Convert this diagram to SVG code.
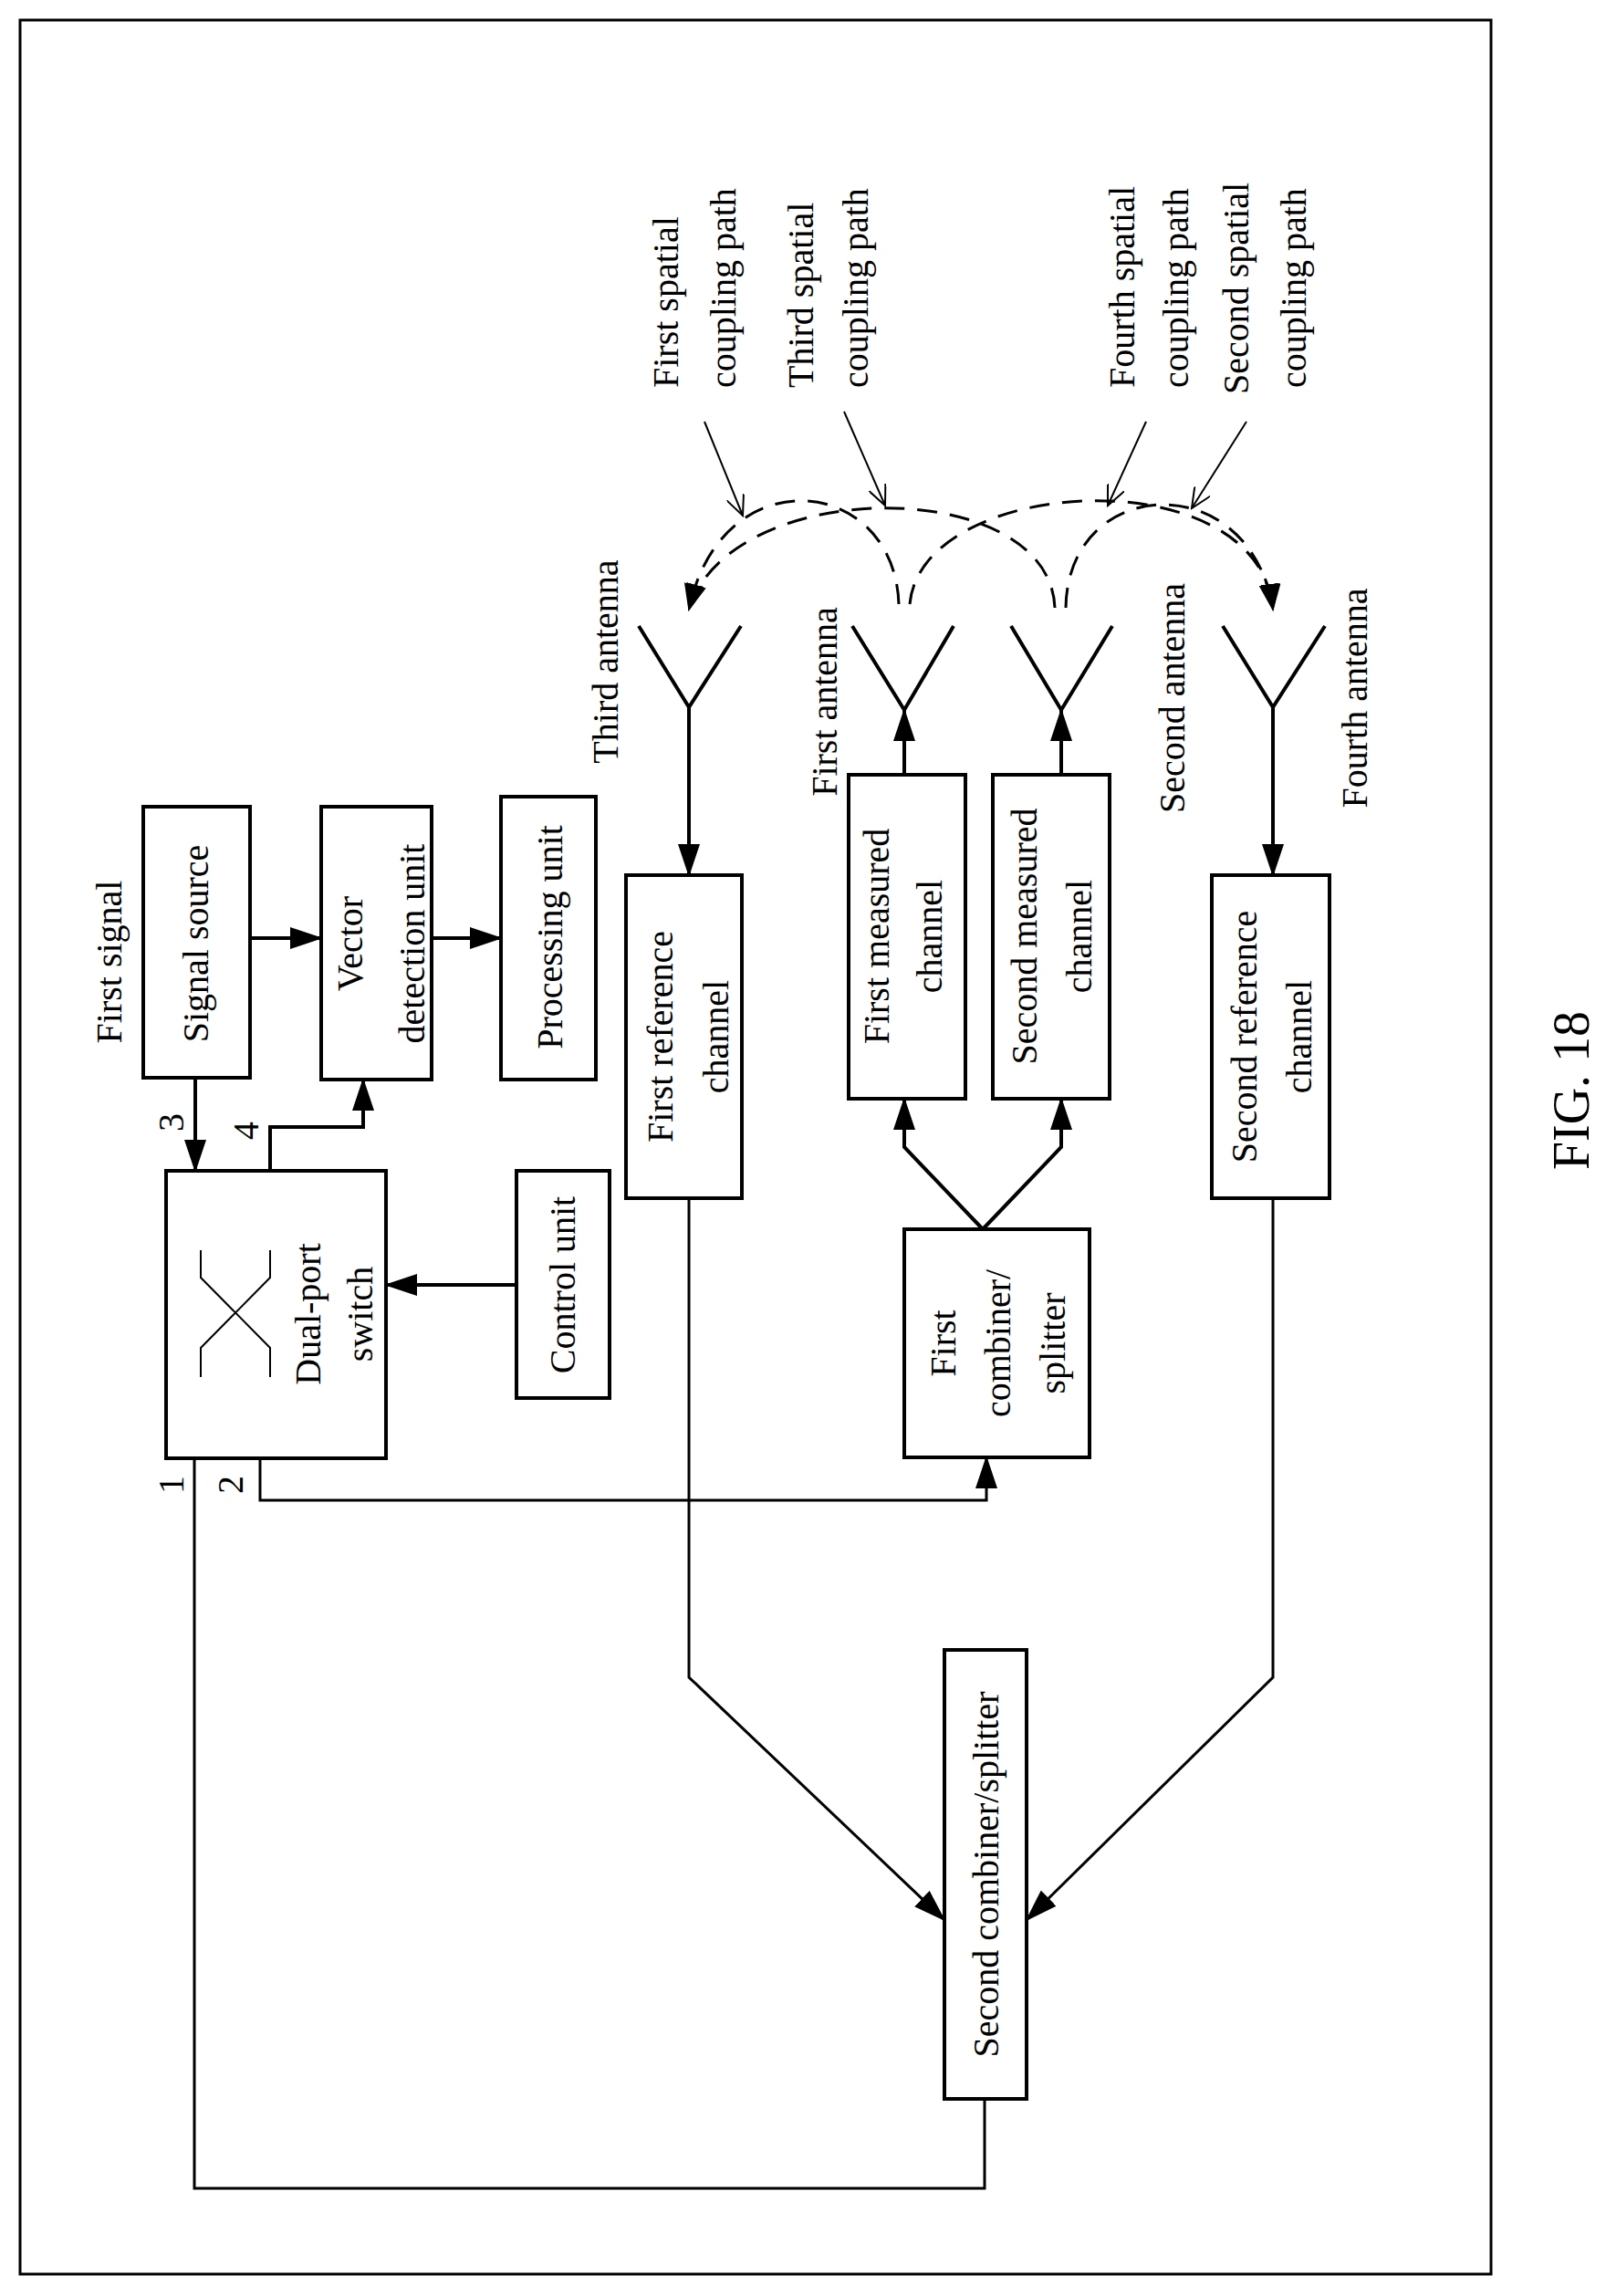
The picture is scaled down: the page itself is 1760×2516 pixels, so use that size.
<svg xmlns="http://www.w3.org/2000/svg" width="1760" height="2516" viewBox="0 0 1760 2516">
<defs>
<marker id="ah" markerUnits="userSpaceOnUse" markerWidth="36" markerHeight="24" refX="34" refY="12" orient="auto"><path d="M0,0 L36,12 L0,24 Z" fill="#000"/></marker>
<marker id="oh" markerUnits="userSpaceOnUse" markerWidth="24" markerHeight="20" refX="22" refY="10" orient="auto"><path d="M0,0 L22,10 L0,20" fill="none" stroke="#000" stroke-width="2"/></marker>
<marker id="dh" markerUnits="userSpaceOnUse" markerWidth="30" markerHeight="22" refX="28" refY="11" orient="auto"><path d="M0,0 L30,11 L0,22 Z" fill="#000"/></marker>
<style>
.b{fill:#fff;stroke:#000;stroke-width:4}
.t{font-family:"Liberation Serif","Times New Roman",serif;font-size:40px;fill:#000;text-anchor:middle}
.s{text-anchor:start}
.c{fill:none;stroke:#000;stroke-width:4}
.p{fill:none;stroke:#000;stroke-width:3}
.l{fill:none;stroke:#000;stroke-width:2}
.d{fill:none;stroke:#000;stroke-width:3;stroke-dasharray:22 14}
</style>
</defs>
<rect x="22" y="22" width="1612" height="2470" fill="none" stroke="#000" stroke-width="3"/>

<g id="connectors">
<path class="c" d="M274 1028 H352" marker-end="url(#ah)"/>
<path class="c" d="M473 1028 H549" marker-end="url(#ah)"/>
<path class="c" d="M214 1181 V1283" marker-end="url(#ah)"/>
<path class="c" d="M296 1283 V1235 H398 V1183" marker-end="url(#ah)"/>
<path class="c" d="M566 1408 H423" marker-end="url(#ah)"/>
<path class="p" d="M285 1598 V1644 H1081 V1597" marker-end="url(#ah)"/>
<path class="p" d="M213 1598 V2398 H1079 V2300"/>
<path class="c" d="M1077 1347 L991 1257 V1204" marker-end="url(#ah)"/>
<path class="c" d="M1077 1347 L1163 1257 V1204" marker-end="url(#ah)"/>
<path class="c" d="M991 849 V778" marker-end="url(#ah)"/>
<path class="c" d="M1163 849 V778" marker-end="url(#ah)"/>
<path class="c" d="M755 775 V959" marker-end="url(#ah)"/>
<path class="c" d="M1395 775 V959" marker-end="url(#ah)"/>
<path class="p" d="M755 1313 V1838 L1035 2104" marker-end="url(#ah)"/>
<path class="p" d="M1395 1313 V1838 L1125 2104" marker-end="url(#ah)"/>
<path class="d" d="M985 662 C980 520 790 500 755 668" marker-end="url(#dh)"/>
<path class="d" d="M1156 666 C1150 520 800 520 755 668" marker-end="url(#dh)"/>
<path class="d" d="M997 662 C1010 520 1380 500 1395 668" marker-end="url(#dh)"/>
<path class="d" d="M1168 666 C1170 520 1370 510 1395 668" marker-end="url(#dh)"/>
<path class="l" d="M772 462 L814 565" marker-end="url(#oh)"/>
<path class="l" d="M925 451 L970 554" marker-end="url(#oh)"/>
<path class="l" d="M1256 462 L1214 554" marker-end="url(#oh)"/>
<path class="l" d="M1366 462 L1306 557" marker-end="url(#oh)"/>
</g>

<g id="signal-source"><rect class="b" x="157" y="884" width="117" height="297"/><text class="t" transform="translate(228,1034) rotate(-90)">Signal source</text></g>
<g id="first-signal"><text class="t" transform="translate(133,1054) rotate(-90)">First signal</text></g>
<g id="vector-detection"><rect class="b" x="352" y="884" width="121" height="299"/><text class="t" transform="translate(397,1034) rotate(-90)">Vector</text><text class="t" transform="translate(465,1034) rotate(-90)">detection unit</text></g>
<g id="processing-unit"><rect class="b" x="549" y="873" width="104" height="310"/><text class="t" transform="translate(616,1027) rotate(-90)">Processing unit</text></g>
<g id="dual-port-switch"><rect class="b" x="182" y="1283" width="241" height="315"/>
<path class="l" d="M220 1370 V1400 L296 1477 V1509 M296 1370 V1400 L220 1477 V1509"/>
<text class="t" transform="translate(351,1440) rotate(-90)">Dual-port</text><text class="t" transform="translate(408,1440) rotate(-90)">switch</text></g>
<g id="control-unit"><rect class="b" x="566" y="1283" width="102" height="249"/><text class="t" transform="translate(630,1408) rotate(-90)">Control unit</text></g>
<g id="port-labels"><text class="t" transform="translate(201,1230) rotate(-90)">3</text><text class="t" transform="translate(283,1239) rotate(-90)">4</text><text class="t" transform="translate(201,1627) rotate(-90)">1</text><text class="t" transform="translate(266,1627) rotate(-90)">2</text></g>
<g id="first-reference"><rect class="b" x="686" y="959" width="127" height="354"/><text class="t" transform="translate(737,1136) rotate(-90)">First reference</text><text class="t" transform="translate(798,1136) rotate(-90)">channel</text></g>
<g id="first-measured"><rect class="b" x="930" y="849" width="128" height="355"/><text class="t" transform="translate(974,1026) rotate(-90)">First measured</text><text class="t" transform="translate(1032,1026) rotate(-90)">channel</text></g>
<g id="second-measured"><rect class="b" x="1088" y="849" width="128" height="355"/><text class="t" transform="translate(1136,1026) rotate(-90)">Second measured</text><text class="t" transform="translate(1196,1026) rotate(-90)">channel</text></g>
<g id="second-reference"><rect class="b" x="1328" y="959" width="129" height="354"/><text class="t" transform="translate(1377,1136) rotate(-90)">Second reference</text><text class="t" transform="translate(1437,1136) rotate(-90)">channel</text></g>
<g id="first-combiner"><rect class="b" x="991" y="1347" width="203" height="250"/><text class="t" transform="translate(1047,1472) rotate(-90)">First</text><text class="t" transform="translate(1107,1472) rotate(-90)">combiner/</text><text class="t" transform="translate(1167,1472) rotate(-90)">splitter</text></g>
<g id="second-combiner"><rect class="b" x="1035" y="1808" width="90" height="492"/><text class="t" transform="translate(1094,2054) rotate(-90)">Second combiner/splitter</text></g>
<g id="third-antenna"><path class="c" d="M700 686 L755 775 L812 686"/><text class="t" transform="translate(677,725) rotate(-90)">Third antenna</text></g>
<g id="first-antenna"><path class="c" d="M934 686 L991 778 L1045 686"/><text class="t" transform="translate(917,769) rotate(-90)">First antenna</text></g>
<g id="second-antenna"><path class="c" d="M1108 686 L1163 778 L1219 686"/><text class="t" transform="translate(1298,765) rotate(-90)">Second antenna</text></g>
<g id="fourth-antenna"><path class="c" d="M1340 686 L1395 775 L1452 686"/><text class="t" transform="translate(1498,765) rotate(-90)">Fourth antenna</text></g>
<g id="coupling-labels">
<text class="t s" transform="translate(743,425) rotate(-90)">First spatial</text><text class="t s" transform="translate(806,425) rotate(-90)">coupling path</text>
<text class="t s" transform="translate(891,425) rotate(-90)">Third spatial</text><text class="t s" transform="translate(951,425) rotate(-90)">coupling path</text>
<text class="t s" transform="translate(1243,425) rotate(-90)">Fourth spatial</text><text class="t s" transform="translate(1302,425) rotate(-90)">coupling path</text>
<text class="t s" transform="translate(1368,432) rotate(-90)">Second spatial</text><text class="t s" transform="translate(1431,425) rotate(-90)">coupling path</text>
</g>
<g id="caption"><text class="t" style="font-size:56px" transform="translate(1741,1195) rotate(-90)">FIG. 18</text></g>
</svg>
